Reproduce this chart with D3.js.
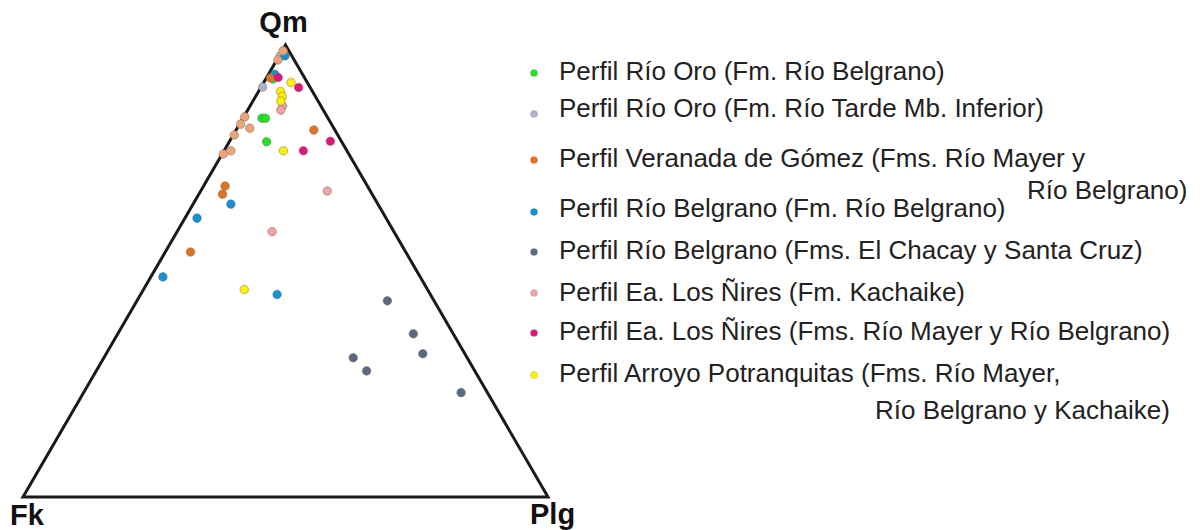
<!DOCTYPE html>
<html>
<head>
<meta charset="utf-8">
<script src="https://cdn.jsdelivr.net/npm/d3@7"></script>
<style>
  body { margin: 0; background: #fff; }
  svg { display: block; font-family: "Liberation Sans", Arial, sans-serif; }
</style>
</head>
<body>
<svg id="chart" width="1200" height="530"></svg>
<script>
// ternary data, each point is [Qm, Fk, Plg] in %
var rioOroBelgrano = [[92.5, 6.1, 1.4], [83.8, 12.6, 3.6], [83.8, 11.9, 4.3], [78.6, 14.3, 7.1]];
var rioOroTarde = [[97.6, 2.2, 0.2], [90.7, 9.0, 0.3]];
var veranadaGomez = [[92.7, 6.5, 0.8], [81.2, 4.0, 14.8], [68.8, 27.1, 4.1], [67.0, 28.5, 4.5], [54.2, 41.0, 4.8]];
var rioBelgranoFm = [[97.6, 1.3, 1.1], [93.5, 5.3, 1.2], [64.8, 28.0, 7.2], [61.7, 36.0, 2.3], [48.7, 49.0, 2.3], [44.8, 29.2, 26.0]];
var rioBelgranoChacay = [[43.4, 8.9, 47.7], [36.1, 7.6, 56.3], [31.7, 8.0, 60.3], [30.8, 21.7, 47.5], [27.9, 20.6, 51.5], [23.1, 5.0, 71.9]];
var niresKachaike = [[86.5, 7.3, 6.2], [85.6, 8.1, 6.3], [67.7, 8.2, 24.1], [58.7, 23.2, 18.1]];
var niresMayer = [[92.8, 5.0, 2.2], [90.6, 2.2, 7.2], [78.7, 2.1, 19.2], [76.6, 8.3, 15.1]];
var potranquitas = [[91.7, 3.1, 5.2], [89.7, 6.1, 4.2], [88.6, 6.3, 5.1], [87.6, 7.1, 5.3], [76.6, 12.1, 11.3], [45.9, 34.9, 19.2]];
// points that have no entry in the legend
var sinLeyenda = [[98.7, 1.1, 0.2], [96.7, 3.1, 0.2], [84.1, 15.7, 0.2], [82.5, 17.3, 0.2], [81.6, 16.0, 2.4], [80.1, 19.7, 0.2], [76.6, 22.1, 1.3], [75.9, 23.9, 0.2]];

var vertexLabels = ["Qm", "Fk", "Plg"];

var legendLabels = [
  ["Perfil Río Oro (Fm. Río Belgrano)"],
  ["Perfil Río Oro (Fm. Río Tarde Mb. Inferior)"],
  ["Perfil Veranada de Gómez (Fms. Río Mayer y", "Río Belgrano)"],
  ["Perfil Río Belgrano (Fm. Río Belgrano)"],
  ["Perfil Río Belgrano (Fms. El Chacay y Santa Cruz)"],
  ["Perfil Ea. Los Ñires (Fm. Kachaike)"],
  ["Perfil Ea. Los Ñires (Fms. Río Mayer y Río Belgrano)"],
  ["Perfil Arroyo Potranquitas (Fms. Río Mayer,", "Río Belgrano y Kachaike)"]
];
var colors = ["#22e422", "#b3afcb", "#e2731f", "#1390d6", "#5b6a80", "#f0a3a3", "#e0157c", "#fff000"];

var svg = d3.select("#chart");

// scales: Qm along vertical, Plg + Qm/2 along horizontal
var yQm = d3.scaleLinear().domain([0, 100]).range([497, 45]);
var xPos = d3.scaleLinear().domain([0, 100]).range([23, 548]);
function px(d) { return xPos(d[2] + d[0] / 2); }
function py(d) { return yQm(d[0]); }

// triangle outline
var corners = [[100, 0, 0], [0, 100, 0], [0, 0, 100]];
svg.append("path")
  .attr("d", d3.line().x(px).y(py)(corners) + "Z")
  .attr("fill", "none")
  .attr("stroke", "#1a1a1a")
  .attr("stroke-width", 3)
  .attr("stroke-linejoin", "miter");

// vertex labels
svg.append("text").attr("x", px(corners[0]) - 2).attr("y", 32)
  .attr("text-anchor", "middle").text(vertexLabels[0]);
svg.append("text").attr("x", 10).attr("y", 525).text(vertexLabels[1]);
svg.append("text").attr("x", 530).attr("y", 524).text(vertexLabels[2]);
svg.selectAll("text").attr("font-size", 29).attr("font-weight", "bold").attr("fill", "#111");

// points, drawn in this order so the overlaps look right
var drawOrder = [
  [rioBelgranoChacay, colors[4]],
  [rioOroTarde, colors[1]],
  [rioOroBelgrano, colors[0]],
  [rioBelgranoFm, colors[3]],
  [veranadaGomez, colors[2]],
  [niresKachaike, colors[5]],
  [potranquitas, colors[7]],
  [niresMayer, colors[6]],
  [sinLeyenda, "#f0a374"]
];
drawOrder.forEach(function(s) {
  svg.append("g").selectAll("circle")
    .data(s[0]).enter().append("circle")
    .attr("cx", px)
    .attr("cy", py)
    .attr("r", 4.3)
    .attr("fill", s[1])
    .attr("stroke", "#6a6a6a")
    .attr("stroke-opacity", 0.6)
    .attr("stroke-width", 0.8);
});

// legend
var dotY = [73, 114, 160, 212, 252, 293, 333, 375];
var baseY = [80, 117, 167, 217, 259, 301, 340, 382];
var contLine = { 2: [1027, 199], 7: [875, 419] };
var legend = svg.append("g");
legendLabels.forEach(function(lines, i) {
  legend.append("circle")
    .attr("cx", 534).attr("cy", dotY[i]).attr("r", 3.6)
    .attr("fill", colors[i])
    .attr("stroke", "#888").attr("stroke-opacity", 0.4).attr("stroke-width", 0.6);
  legend.append("text")
    .attr("x", 559).attr("y", baseY[i])
    .attr("font-size", 26).attr("fill", "#222")
    .text(lines[0]);
  if (lines[1]) {
    legend.append("text")
      .attr("x", contLine[i][0]).attr("y", contLine[i][1])
      .attr("font-size", 26).attr("fill", "#222")
      .text(lines[1]);
  }
});
</script>
</body>
</html>
